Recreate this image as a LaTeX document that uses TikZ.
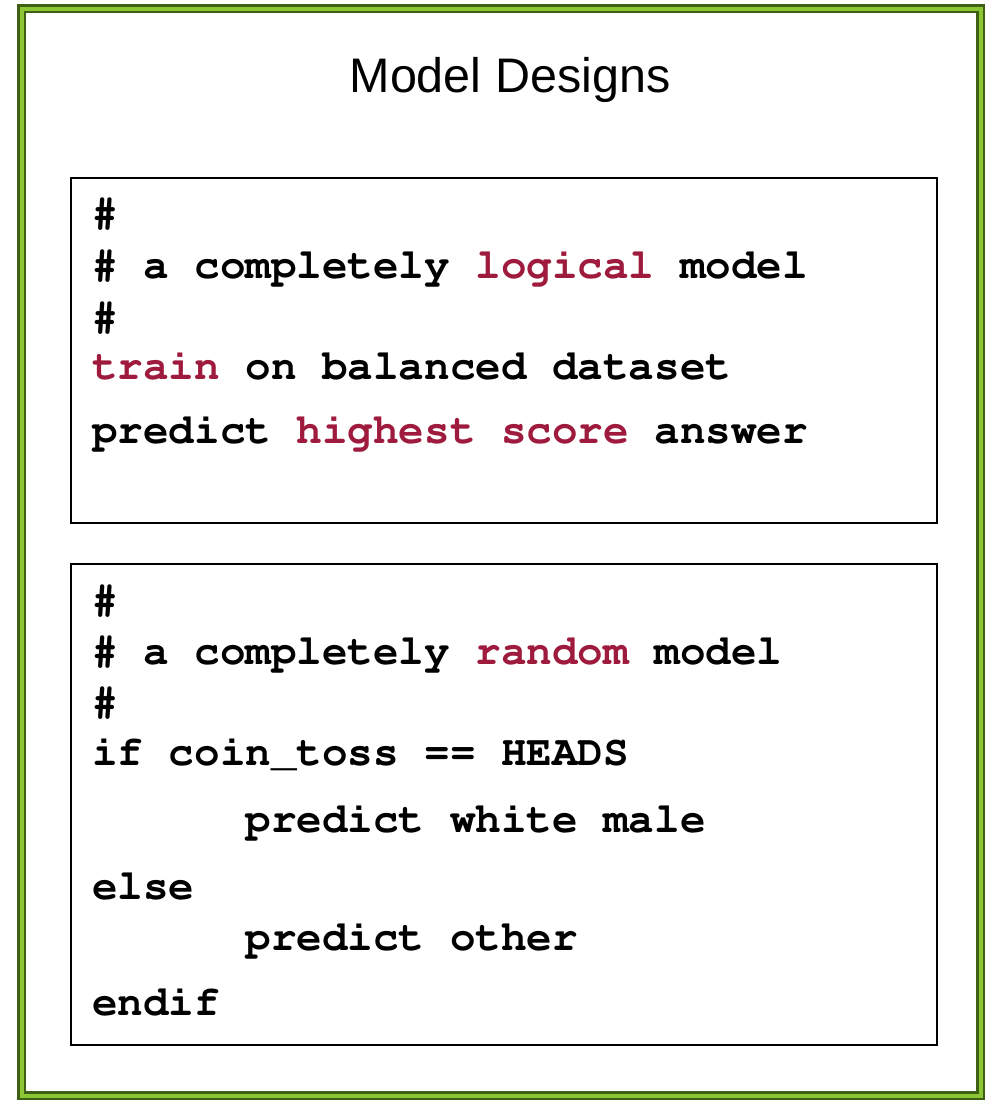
\documentclass[tikz,border=0pt]{standalone}
\usepackage{fontspec}
\setmainfont{Liberation Sans}
\definecolor{kw}{RGB}{158,27,62}
\definecolor{frameDark}{RGB}{62,96,20}
\definecolor{frameLight}{RGB}{140,198,52}
% Courier-style slab monospace (URW Nimbus Mono via NFSS)
\newcommand{\codefont}{\fontencoding{T1}\fontfamily{pcr}\fontseries{b}\selectfont}
\newcommand{\hl}[1]{\textcolor{kw}{#1}}
\newcommand{\tab}{\phantom{123456}}
\begin{document}
\begin{tikzpicture}[x=1pt,y=-1pt,
  codeline/.style={anchor=base west, inner sep=0pt,
    font=\fontsize{42.6}{42.6}\codefont},
  heading/.style={anchor=base, inner sep=0pt,
    font=\fontsize{48.5}{48.5}\selectfont},
  panel/.style={draw=black, line width=1.7pt, inner sep=0pt}]
\useasboundingbox (0,0) rectangle (990,1100);
% green double frame
\draw[frameDark, line width=9.5pt] (21.5,8.5) rectangle (980.5,1095.5);
\draw[frameLight, line width=4pt] (21.5,8.5) rectangle (980.5,1095.5);

\node[heading] (title) at (510,92) {Model Designs};

% first code panel
\node[panel, minimum width=866pt, minimum height=345pt] (logical) at (504,350.5) {};
\node[codeline] (l1) at (92,226) {\#};
\node[codeline] (l2) at (92,278) {\# a completely \hl{logical} model};
\node[codeline] (l3) at (92,330) {\#};
\node[codeline] (l4) at (92,379) {\hl{train} on balanced dataset};
\node[codeline] (l5) at (92,443) {predict \hl{highest score} answer};

% second code panel
\node[panel, minimum width=866pt, minimum height=481pt] (random) at (504,804.5) {};
\node[codeline] (r1) at (92,613) {\#};
\node[codeline] (r2) at (92,664) {\# a completely \hl{random} model};
\node[codeline] (r3) at (92,715) {\#};
\node[codeline] (r4) at (92,765) {if coin\_toss == HEADS};
\node[codeline] (r5) at (92,832) {\tab predict white male};
\node[codeline] (r6) at (92,899) {else};
\node[codeline] (r7) at (92,950) {\tab predict other};
\node[codeline] (r8) at (92,1015) {endif};
\end{tikzpicture}
\end{document}
